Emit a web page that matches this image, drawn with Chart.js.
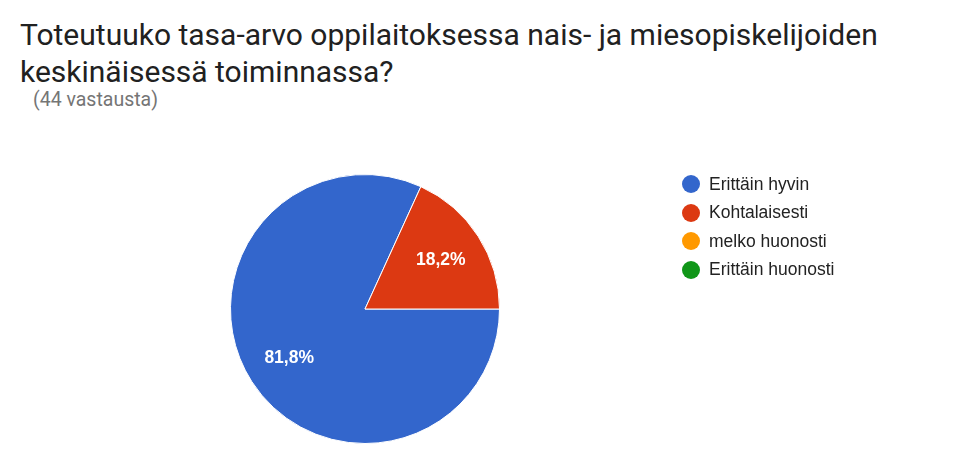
<!DOCTYPE html>
<html>
<head>
<meta charset="utf-8">
<script src="https://cdn.jsdelivr.net/npm/chart.js@4"></script>
<style>
  body { margin: 0; width: 959px; height: 471px; background: #fff; overflow: hidden; font-family: Roboto, Arial, sans-serif; position: relative; }
  #title { position: absolute; left: 20px; top: 16px; font-size: 30px; line-height: 37px; color: #212121; }
  #sub { position: absolute; left: 33px; top: 88px; font-size: 19.5px; color: #757575; }
  #wrap { position: absolute; left: 0; top: 0; width: 959px; height: 471px; }
  #legend { position: absolute; left: 682px; top: 170px; font-family: Arial, "Liberation Sans", sans-serif; font-size: 17.5px; color: #222; }
  #legend div { height: 28.5px; display: flex; align-items: center; }
  #legend span.dot { width: 18px; height: 18px; border-radius: 50%; display: inline-block; margin-right: 9px; }
</style>
</head>
<body>
<div id="title">Toteutuuko tasa-arvo oppilaitoksessa nais- ja miesopiskelijoiden<br>keskinäisessä toiminnassa?</div>
<div id="sub">(44 vastausta)</div>
<div id="wrap"><canvas id="pieChart" width="959" height="471"></canvas></div>
<div id="legend"></div>
<script>
const categories = ['Erittäin hyvin', 'Kohtalaisesti', 'melko huonosti', 'Erittäin huonosti'];
const counts = [36, 8, 0, 0];
const colors = ['#3366cc', '#dc3912', '#ff9900', '#109618'];

document.addEventListener('DOMContentLoaded', function () {
    const legend = document.getElementById('legend');
    categories.forEach(function (name, i) {
        const row = document.createElement('div');
        row.innerHTML = '<span class="dot" style="background:' + colors[i] + '"></span>' + name;
        legend.appendChild(row);
    });

    const total = counts.reduce(function (a, b) { return a + b; }, 0);

    // percent labels inside the slices
    const sliceLabels = {
        id: 'sliceLabels',
        afterDatasetsDraw: function (chart) {
            const ctx = chart.ctx;
            const meta = chart.getDatasetMeta(0);
            ctx.save();
            ctx.fillStyle = '#fff';
            ctx.font = 'bold 17.5px Arial, "Liberation Sans", sans-serif';
            ctx.textAlign = 'center';
            ctx.textBaseline = 'middle';
            meta.data.forEach(function (arc, i) {
                if (!counts[i]) return;
                const mid = (arc.startAngle + arc.endAngle) / 2;
                const r = arc.outerRadius * 0.67;
                const txt = (counts[i] / total * 100).toFixed(1).replace('.', ',') + '%';
                ctx.fillText(txt, arc.x + Math.cos(mid) * r, arc.y + Math.sin(mid) * r);
            });
            ctx.restore();
        }
    };

    const ctx = document.getElementById('pieChart').getContext('2d');
    new Chart(ctx, {
        type: 'pie',
        data: {
            labels: categories,
            datasets: [{
                data: counts,
                backgroundColor: colors,
                borderColor: '#fff',
                borderWidth: 1
            }]
        },
        options: {
            responsive: false,
            animation: false,
            rotation: 90,
            layout: { padding: { left: 230, right: 459, top: 174, bottom: 27 } },
            plugins: {
                legend: { display: false },
                tooltip: { enabled: false }
            }
        },
        plugins: [sliceLabels]
    });
});
</script>
</body>
</html>
